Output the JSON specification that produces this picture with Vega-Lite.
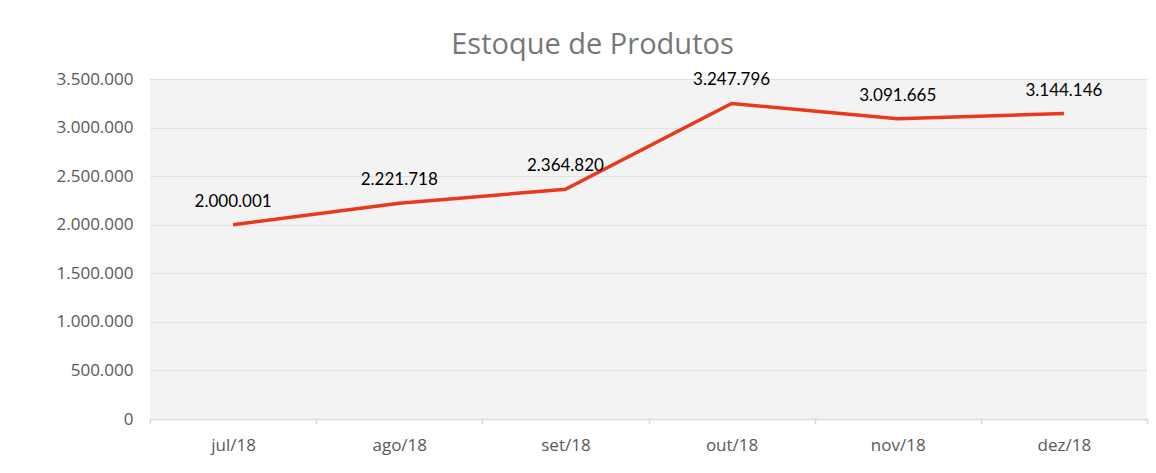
{
  "$schema": "https://vega.github.io/schema/vega-lite/v6.json",
  "width": 997,
  "height": 340,
  "autosize": "none",
  "padding": {"left": 150, "top": 79, "right": 9, "bottom": 54},
  "background": "white",
  "config": {
    "locale": {"number": {"decimal": ",", "thousands": ".", "grouping": [3], "currency": ["R$ ", ""]}},
    "view": {"stroke": null, "fill": "#f3f3f3"},
    "font": "Open Sans"
  },
  "title": {
    "text": "Estoque de Produtos",
    "font": "Open Sans",
    "fontSize": 29,
    "fontWeight": "normal",
    "color": "#777777",
    "anchor": "middle",
    "dx": -56,
    "dy": 36,
    "offset": 23,
    "baseline": "alphabetic"
  },
  "data": {
    "values": [
      {"mes": "jul/18", "estoque": 2000001},
      {"mes": "ago/18", "estoque": 2221718},
      {"mes": "set/18", "estoque": 2364820},
      {"mes": "out/18", "estoque": 3247796},
      {"mes": "nov/18", "estoque": 3091665},
      {"mes": "dez/18", "estoque": 3144146}
    ]
  },
  "encoding": {
    "x": {
      "field": "mes",
      "type": "ordinal",
      "sort": null,
      "bandPosition": 0.5,
      "scale": {"type": "band", "paddingInner": 0, "paddingOuter": 0},
      "axis": {
        "title": null,
        "labelAngle": 0,
        "tickBand": "extent",
        "grid": false,
        "domainColor": "#d9d9d9",
        "domainWidth": 1.5,
        "tickColor": "#d9d9d9",
        "tickSize": 5,
        "tickWidth": 1.5,
        "labelPadding": 13,
        "labelFont": "Open Sans",
        "labelFontSize": 17,
        "labelColor": "#595959"
      }
    },
    "y": {
      "field": "estoque",
      "type": "quantitative",
      "scale": {"domain": [0, 3500000]},
      "axis": {
        "title": null,
        "values": [0, 500000, 1000000, 1500000, 2000000, 2500000, 3000000, 3500000],
        "format": ",d",
        "domain": false,
        "ticks": false,
        "grid": true,
        "gridColor": "#e0e0e0",
        "gridWidth": 1,
        "labelPadding": 17,
        "labelFont": "Open Sans",
        "labelFontSize": 17,
        "labelColor": "#595959"
      }
    }
  },
  "layer": [
    {
      "mark": {"type": "line", "color": "#e8391d", "strokeWidth": 3.5}
    },
    {
      "mark": {"type": "text", "baseline": "alphabetic", "dy": -18, "font": "Lato", "fontSize": 17, "color": "#000000"},
      "encoding": {"text": {"field": "estoque", "type": "quantitative", "format": ",d"}}
    }
  ]
}
